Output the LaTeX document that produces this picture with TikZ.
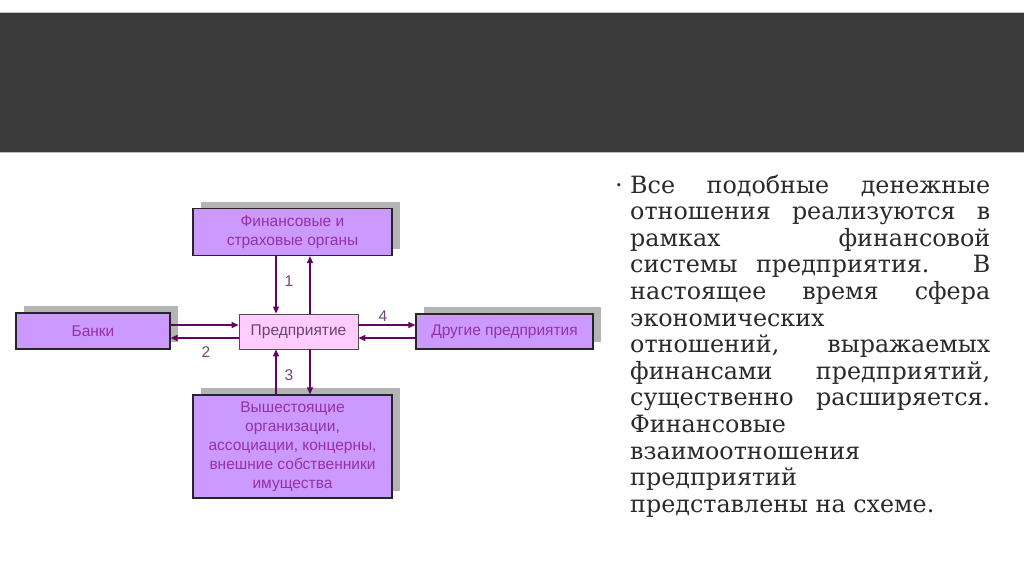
\documentclass[tikz,border=0pt]{standalone}
\usepackage{fontspec}
\setmainfont{DejaVu Serif}
\newfontfamily\boxfont{Liberation Sans}
\usetikzlibrary{arrows.meta,shadows}
\definecolor{band}{HTML}{3B3B3B}
\definecolor{boxfill}{HTML}{CC99FF}
\definecolor{entfill}{HTML}{FFCCFF}
\definecolor{boxtext}{HTML}{9630A8}
\definecolor{enttext}{HTML}{6A4470}
\definecolor{arrcol}{HTML}{660066}
\definecolor{labcol}{HTML}{6E4A70}
\definecolor{bodytext}{HTML}{2A2A2A}
\definecolor{shadowgray}{HTML}{B4B4B4}
\tikzset{
  orgbox/.style={draw=black!85, line width=1.2pt, fill=boxfill, text=boxtext,
    font=\boxfont\fontsize{15.5}{19}\selectfont, align=center, inner sep=0pt,
    drop shadow={shadow xshift=8pt, shadow yshift=7pt, fill=shadowgray, opacity=1}},
  entbox/.style={draw=black!70, line width=0.8pt, fill=entfill, text=enttext,
    font=\boxfont\fontsize{15.5}{19}\selectfont, inner sep=0pt},
  arr/.style={draw=arrcol, line width=1.2pt, -{Triangle[length=7pt,width=6pt]}},
  numlab/.style={text=labcol, font=\boxfont\fontsize{15.5}{16}\selectfont, inner sep=0pt}
}
\begin{document}
\begin{tikzpicture}[x=1pt,y=-1pt]
\useasboundingbox (0,0) rectangle (1024,574);
\fill[white] (0,0) rectangle (1024,574);
\fill[band] (0,13) rectangle (1024,152);
\draw[black!25, line width=0.6pt] (0,12.5) -- (1024,12.5);
\draw[black!25, line width=0.6pt] (0,152.5) -- (1024,152.5);

% boxes
\node[orgbox, minimum width=199pt, minimum height=47pt] (top) at (292.5,232) {Финансовые и\\страховые органы};
\node[orgbox, minimum width=154pt, minimum height=36pt] (bank) at (93,331) {Банки};
\node[orgbox, minimum width=177pt, minimum height=35pt] (other) at (504.5,331.5) {Другие предприятия};
\node[orgbox, minimum width=199pt, minimum height=103pt] (bottom) at (292.5,446.5) {Вышестоящие\\организации,\\ассоциации, концерны,\\внешние собственники\\имущества};
\node[entbox, minimum width=119pt, minimum height=35pt] (ent) at (298.5,331.5) {Предприятие};

% helper coordinates
\coordinate (v1) at (276,0);
\coordinate (v2) at (310,0);
\coordinate (h1) at (0,325);
\coordinate (h2) at (0,338);

% connectors
\draw[arr] (top.south -| v1) -- (ent.north -| v1);
\draw[arr] (ent.north -| v2) -- (top.south -| v2);
\draw[arr] (bottom.north -| v1) -- (ent.south -| v1);
\draw[arr] (ent.south -| v2) -- (bottom.north -| v2);
\draw[arr] (bank.east |- h1) -- (ent.west |- h1);
\draw[arr] (ent.west |- h2) -- (bank.east |- h2);
\draw[arr] (ent.east |- h1) -- (other.west |- h1);
\draw[arr] (other.west |- h2) -- (ent.east |- h2);

% labels
\node[numlab] (l1) at (289,281) {1};
\node[numlab] (l2) at (206,352) {2};
\node[numlab] (l3) at (289,375) {3};
\node[numlab] (l4) at (383,316) {4};

% text
\node[text=bodytext, font=\fontsize{24}{26.6}\selectfont, anchor=base] (bul) at (619,193) {·};
\node[text=bodytext, anchor=base west, text width=360pt, align=justify, inner sep=0pt,
  font=\fontsize{23.8}{26.6}\selectfont] (para) at (630,193)
{\hyphenpenalty=10000\relax\exhyphenpenalty=10000\relax
Все подобные денежные\linebreak
отношения реализуются в\linebreak
рамках финансовой\linebreak
системы предприятия. В\linebreak
настоящее время сфера\linebreak
экономических\newline
отношений, выражаемых\linebreak
финансами предприятий,\linebreak
существенно расширяется.\linebreak
Финансовые\newline
взаимоотношения\newline
предприятий\newline
представлены на схеме.};
\end{tikzpicture}
\end{document}
